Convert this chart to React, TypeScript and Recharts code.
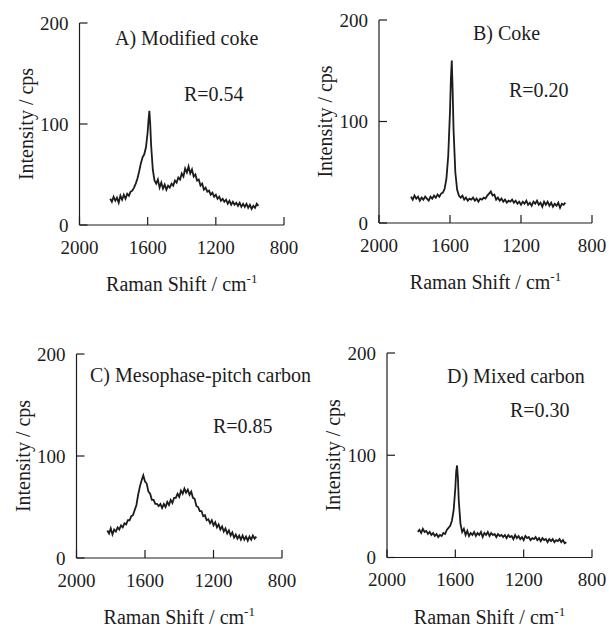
import { LineChart, Line, XAxis, YAxis } from "recharts";

// Raman shift grids (cm-1)
const shiftsSharp = [
  1820, 1810, 1800, 1790, 1780, 1770, 1760, 1750, 1740, 1730,
  1720, 1710, 1700, 1690, 1680, 1670, 1660, 1650, 1640, 1630,
  1620, 1610, 1600, 1595, 1590, 1585, 1580, 1570, 1560, 1550,
  1540, 1530, 1520, 1510, 1500, 1490, 1480, 1470, 1460, 1450,
  1440, 1430, 1420, 1410, 1400, 1390, 1380, 1370, 1360, 1350,
  1340, 1330, 1320, 1310, 1300, 1290, 1280, 1270, 1260, 1250,
  1240, 1230, 1220, 1210, 1200, 1190, 1180, 1170, 1160, 1150,
  1140, 1130, 1120, 1110, 1100, 1090, 1080, 1070, 1060, 1050,
  1040, 1030, 1020, 1010, 1000, 990, 980, 970, 960, 950,
];

const shiftsBroad = [
  1820, 1810, 1800, 1790, 1780, 1770, 1760, 1750, 1740, 1730,
  1720, 1710, 1700, 1690, 1680, 1670, 1660, 1650, 1640, 1630,
  1620, 1610, 1600, 1590, 1580, 1570, 1560, 1550, 1540, 1530,
  1520, 1510, 1500, 1490, 1480, 1470, 1460, 1450, 1440, 1430,
  1420, 1410, 1400, 1390, 1380, 1370, 1360, 1350, 1340, 1330,
  1320, 1310, 1300, 1290, 1280, 1270, 1260, 1250, 1240, 1230,
  1220, 1210, 1200, 1190, 1180, 1170, 1160, 1150, 1140, 1130,
  1120, 1110, 1100, 1090, 1080, 1070, 1060, 1050, 1040, 1030,
  1020, 1010, 1000, 990, 980, 970, 960, 950,
];

// intensities (cps)
const modifiedCoke = [
  26, 23, 28, 24, 27, 22, 29, 25, 30, 26,
  31, 29, 33, 34, 37, 41, 46, 53, 61, 67,
  70, 77, 92, 104, 113, 100, 80, 55, 44, 41,
  45, 37, 42, 36, 40, 35, 39, 37, 41, 39,
  44, 42, 47, 45, 51, 48, 56, 52, 58, 51,
  55, 48, 50, 44, 45, 39, 41, 35, 37, 33,
  34, 30, 32, 28, 30, 26, 28, 24, 26, 23,
  25, 21, 24, 20, 23, 20, 22, 19, 22, 18,
  21, 18, 21, 17, 20, 16, 19, 17, 21, 19,
];

const coke = [
  26, 23, 27, 24, 26, 22, 25, 23, 26, 24,
  22, 26, 24, 27, 25, 28, 26, 29, 30, 34,
  44, 66, 110, 142, 160, 130, 92, 50, 33, 27,
  25, 27, 23, 25, 22, 24, 23, 25, 22, 24,
  21, 24, 23, 25, 24, 27, 29, 31, 27, 28,
  23, 25, 22, 24, 21, 23, 20, 22, 21, 23,
  20, 22, 19, 21, 18, 21, 19, 22, 18, 20,
  17, 21, 19, 22, 18, 20, 16, 21, 18, 21,
  17, 20, 16, 19, 17, 20, 15, 19, 18, 20,
];

const mesophaseCarbon = [
  27, 24, 29, 23, 28, 26, 30, 28, 32, 30,
  34, 33, 37, 37, 41, 42, 47, 52, 62, 70,
  76, 81, 75, 73, 65, 63, 57, 57, 53, 53,
  51, 53, 49, 53, 50, 55, 52, 57, 54, 59,
  59, 63, 60, 66, 63, 68, 64, 67, 62, 65,
  59, 58, 51, 50, 46, 46, 41, 42, 37, 38,
  34, 37, 32, 35, 30, 33, 28, 31, 26, 29,
  24, 27, 22, 25, 20, 23, 19, 22, 18, 22,
  18, 21, 17, 21, 18, 22, 19, 21,
];

const mixedCarbon = [
  25, 27, 24, 28, 25, 26, 23, 25, 22, 24,
  21, 23, 20, 22, 21, 24, 23, 27, 29, 31,
  36, 46, 68, 84, 90, 78, 56, 33, 25, 28,
  22, 26, 21, 24, 22, 25, 21, 24, 22, 25,
  20, 24, 22, 25, 21, 24, 22, 23, 20, 23,
  21, 22, 20, 22, 19, 22, 20, 21, 18, 22,
  19, 21, 18, 20, 17, 21, 19, 20, 17, 19,
  18, 20, 17, 19, 16, 19, 17, 18, 15, 18,
  16, 18, 15, 17, 16, 18, 15, 17, 14, 15,
];

const xTicks = [2000, 1600, 1200, 800];
const yTicks = [0, 100, 200];

const ink = "#1c1c1c";
const serif = '"Liberation Serif", "Times New Roman", Tinos, "DejaVu Serif", serif';
const textStyle = { fontFamily: serif };

type PanelSpec = {
  shifts: number[];
  values: number[];
  name: string;
  ratio: string;
  left: number;
  top: number;
  width: number;
  height: number;
  plotLeft: number;
  plotTop: number;
  plotRight: number;
  plotBottom: number;
  nameAt: [number, number];
  ratioAt: [number, number];
};

const panels: PanelSpec[] = [
  {
    shifts: shiftsSharp, values: modifiedCoke, name: "A) Modified coke", ratio: "R=0.54",
    left: 0, top: 0, width: 304, height: 300,
    plotLeft: 79.5, plotTop: 23, plotRight: 284, plotBottom: 225,
    nameAt: [115, 45], ratioAt: [184, 101],
  },
  {
    shifts: shiftsSharp, values: coke, name: "B) Coke", ratio: "R=0.20",
    left: 300, top: 0, width: 309, height: 300,
    plotLeft: 379, plotTop: 20, plotRight: 592, plotBottom: 223,
    nameAt: [473, 40], ratioAt: [509, 97],
  },
  {
    shifts: shiftsBroad, values: mesophaseCarbon, name: "C) Mesophase-pitch carbon", ratio: "R=0.85",
    left: 0, top: 330, width: 304, height: 298,
    plotLeft: 76.5, plotTop: 354, plotRight: 282, plotBottom: 558,
    nameAt: [90, 382], ratioAt: [213, 433],
  },
  {
    shifts: shiftsSharp, values: mixedCarbon, name: "D) Mixed carbon", ratio: "R=0.30",
    left: 300, top: 330, width: 309, height: 298,
    plotLeft: 387, plotTop: 353, plotRight: 592, plotBottom: 557.5,
    nameAt: [447, 383], ratioAt: [510, 417],
  },
];

function XTick({ x, y, payload }: any) {
  return (
    <g>
      <line x1={x} x2={x} y1={y} y2={y - 8} stroke={ink} strokeWidth={1.2} />
      <text x={x} y={y + 22} dy="0.35em" textAnchor="middle" fontSize={19} style={textStyle} fill={ink}>
        {payload.value}
      </text>
    </g>
  );
}

function YTick({ x, y, payload }: any) {
  return (
    <g>
      <line x1={x} x2={x + 8} y1={y} y2={y} stroke={ink} strokeWidth={1.2} />
      <text x={x - 11} y={y} dy="0.35em" textAnchor="end" fontSize={19} style={textStyle} fill={ink}>
        {payload.value}
      </text>
    </g>
  );
}

function Panel({ p }: { p: PanelSpec }) {
  const rows = p.shifts.map((s, i) => ({ shift: s, intensity: p.values[i] }));
  const yAxisWidth = p.plotLeft - p.left;
  const xAxisHeight = p.top + p.height - p.plotBottom;
  const midX = (p.plotLeft + p.plotRight) / 2 - p.left;
  const midY = (p.plotTop + p.plotBottom) / 2 - p.top;
  const titleX = p.plotLeft - 54 - p.left;

  return (
    <div style={{ position: "absolute", left: p.left, top: p.top }}>
      <LineChart
        width={p.width}
        height={p.height}
        data={rows}
        style={{ overflow: "visible" }}
        margin={{ top: p.plotTop - p.top, right: p.left + p.width - p.plotRight, left: 0, bottom: 0 }}
      >
        <XAxis
          type="number"
          dataKey="shift"
          domain={[800, 2000]}
          reversed
          ticks={xTicks}
          interval={0}
          height={xAxisHeight}
          tickSize={0}
          tickMargin={0}
          tickLine={false}
          tick={<XTick />}
          axisLine={{ stroke: ink, strokeWidth: 1.2 }}
          label={{
            content: () => (
              <text x={midX} y={p.plotBottom - p.top + 59} dy="0.35em" textAnchor="middle" fontSize={20} style={textStyle} fill={ink}>
                <tspan>Raman Shift / cm</tspan>
                <tspan dy={-8} fontSize={13}>-1</tspan>
              </text>
            ),
          }}
        />
        <YAxis
          type="number"
          domain={[0, 200]}
          ticks={yTicks}
          interval={0}
          width={yAxisWidth}
          tickSize={0}
          tickMargin={0}
          tickLine={false}
          tick={<YTick />}
          axisLine={{ stroke: ink, strokeWidth: 1.2 }}
          label={{
            content: () => (
              <text
                x={titleX}
                y={midY}
                dy="0.35em"
                textAnchor="middle"
                fontSize={20}
                style={textStyle}
                fill={ink}
                transform={`rotate(-90 ${titleX} ${midY})`}
              >
                Intensity / cps
              </text>
            ),
          }}
        />
        <Line
          type="linear"
          dataKey="intensity"
          stroke={ink}
          strokeWidth={1.8}
          dot={false}
          isAnimationActive={false}
        />
      </LineChart>
    </div>
  );
}

export default function App() {
  return (
    <div style={{ position: "absolute", left: 0, top: 0, width: 609, height: 628, background: "#fff" }}>
      {panels.map((p) => (
        <Panel key={p.name} p={p} />
      ))}
      <svg width={609} height={628} style={{ position: "absolute", left: 0, top: 0, pointerEvents: "none" }}>
        {panels.map((p) => (
          <g key={p.name} fontSize={20} fill={ink} style={textStyle}>
            <text x={p.nameAt[0]} y={p.nameAt[1]}>{p.name}</text>
            <text x={p.ratioAt[0]} y={p.ratioAt[1]}>{p.ratio}</text>
          </g>
        ))}
      </svg>
    </div>
  );
}
